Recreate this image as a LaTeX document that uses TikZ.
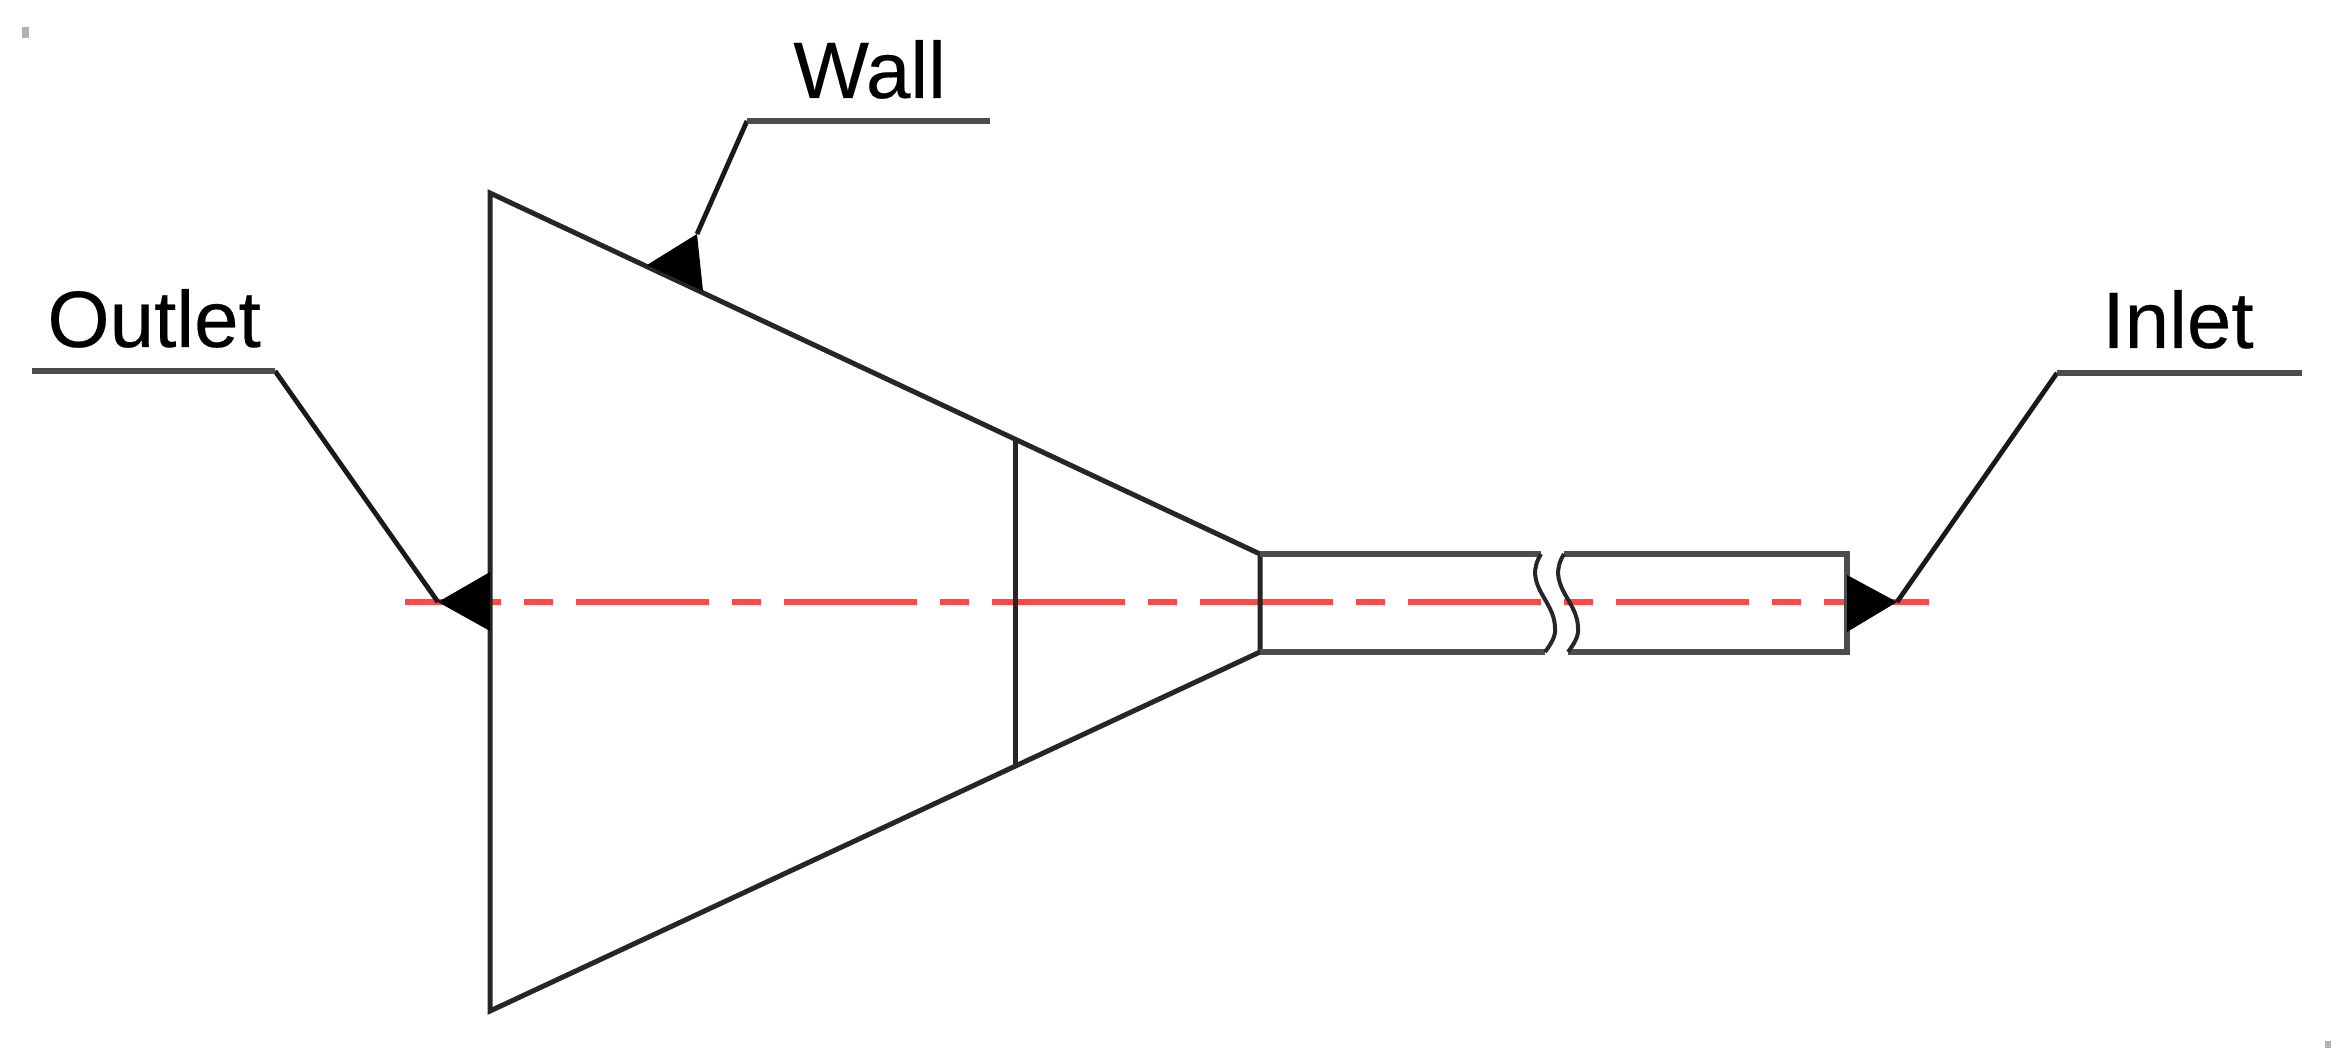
\documentclass[tikz,border=0pt]{standalone}
\usepackage{fontspec}
\setmainfont[FakeBold=0.25]{Liberation Sans}
\tikzset{
  wallline/.style={line width=2.5pt,black!85,line join=miter},
  shelfline/.style={line width=3pt,black!70},
  leaderline/.style={line width=2.4pt,black!90},
  waveline/.style={line width=2pt,black!85},
  marker/.style={fill=black,draw=none},
  axisline/.style={line width=3pt,red!72,dash pattern=on 66.5pt off 11.5pt on 14.5pt off 11.5pt,dash phase=18.5pt},
  label/.style={inner sep=0pt,anchor=base west,font=\fontsize{40}{48}\selectfont},
  speck/.style={fill=black!30,draw=none}
}
\begin{document}
\begin{tikzpicture}[x=0.5pt,y=-0.5pt]
\useasboundingbox (0,0) rectangle (2341,1048);
% key points
\coordinate (top) at (490,193);
\coordinate (bot) at (490,1011);
\coordinate (neckT) at (1260,554);
\coordinate (neckB) at (1260,652);
\coordinate (secT) at (1015,439);
\coordinate (secB) at (1015,766);
\coordinate (pipeLT) at (1541,554);
\coordinate (pipeLB) at (1545,652);
\coordinate (pipeRT) at (1564,554);
\coordinate (pipeRB) at (1568,652);
\coordinate (endT) at (1847,554);
\coordinate (endB) at (1847,652);
\coordinate (axisL) at (405,602);
\coordinate (axisR) at (1929,602);
% centre axis
\draw[axisline] (axisL) -- (axisR);
% body
\draw[wallline] (secT) -- (secB);
\draw[wallline] (neckB) -- (bot) -- (top) -- (neckT) -- cycle;
% pipe
\draw[shelfline] (neckT) -- (pipeLT);
\draw[shelfline] (neckB) -- (pipeLB);
\draw[shelfline] (pipeRT) -- (endT) -- (endB) -- (pipeRB);
\draw[waveline] (pipeLT) .. controls (1522,585) and (1555,600) .. (1555,628) .. controls (1556,636) and (1551,644) .. (pipeLB);
\draw[waveline] (pipeRT) .. controls (1545,585) and (1578,600) .. (1578,628) .. controls (1579,636) and (1574,644) .. (pipeRB);
% markers
\coordinate (outA) at (438,602);
\coordinate (wallA) at (647,265);
\coordinate (wallB) at (697,234);
\coordinate (inA) at (1897,602);
\fill[marker] (outA) -- (490,572) -- (490,631) -- cycle;
\fill[marker] (wallA) -- (wallB) -- (703,291) -- cycle;
\fill[marker] (inA) -- (1847,575) -- (1847,632) -- cycle;
% leaders and shelves
\coordinate (outS) at (275,371);
\coordinate (outE) at (32,371);
\coordinate (wallS) at (747,121);
\coordinate (wallE) at (990,121);
\coordinate (inS) at (2057,373);
\coordinate (inE) at (2302,373);
\draw[leaderline] (outA) -- (outS);
\draw[shelfline] (outS) -- (outE);
\draw[leaderline] (wallB) -- (wallS);
\draw[shelfline] (wallS) -- (wallE);
\draw[leaderline] (inA) -- (inS);
\draw[shelfline] (inS) -- (inE);
% labels
\node[label] (outlet) at (47,347) {Outlet};
\node[label] (wall) at (793,98) {Wall};
\node[label] (inlet) at (2102,348) {Inlet};
% specks
\fill[speck] (22,27) rectangle (29,38);
\fill[speck] (2325,1041) rectangle (2331,1048);
\end{tikzpicture}
\end{document}
